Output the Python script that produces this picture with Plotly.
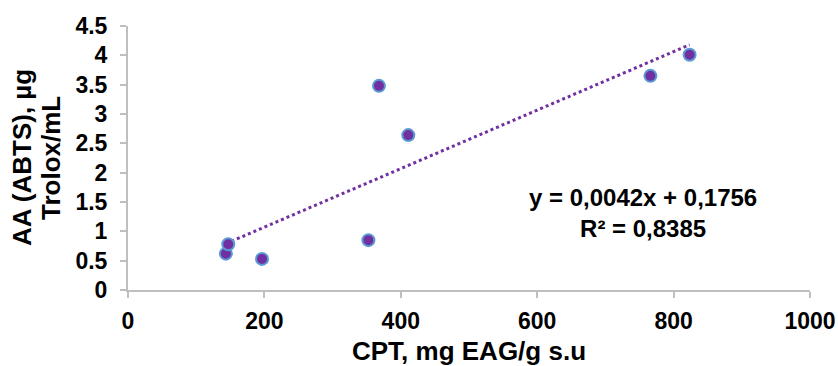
import plotly.graph_objects as go

# Data
cpt = [143.5, 147, 196.5, 352.5, 368, 411, 766, 823.5]
aa_abts = [0.62, 0.78, 0.53, 0.85, 3.48, 2.64, 3.65, 4.01]

# Trend line endpoints as drawn in the picture
trend_x = [143.5, 823.5]
trend_y = [0.79, 4.18]

x_ticks = [0, 200, 400, 600, 800, 1000]
y_ticks = [0, 0.5, 1, 1.5, 2, 2.5, 3, 3.5, 4, 4.5]
y_tick_labels = ["0", "0.5", "1", "1.5", "2", "2.5", "3", "3.5", "4", "4.5"]

eq_lines = ["y = 0,0042x + 0,1756", "R² = 0,8385"]
y_title_lines = ["AA (ABTS), µg", "Trolox/mL"]

FONT = "Liberation Sans, Arial, sans-serif"
AXIS_COLOR = "#BFBFBF"

fig = go.Figure()
fig.add_trace(go.Scatter(
    x=trend_x, y=trend_y, mode="lines",
    line=dict(color="#7030A0", width=3, dash="dot"),
    showlegend=False, hoverinfo="skip",
))
fig.add_trace(go.Scatter(
    x=cpt, y=aa_abts, mode="markers",
    marker=dict(size=12, color="#7030A0", line=dict(color="#5B9BD5", width=2)),
    showlegend=False,
))

fig.add_annotation(
    x=0.755, y=0.292, xref="paper", yref="paper",
    xanchor="center", yanchor="middle",
    text="<b>" + "<br>".join(eq_lines) + "</b>",
    showarrow=False, align="center",
    font=dict(family=FONT, size=24, color="#000000"),
)

# Y-axis title, two rotated lines
for line_text, xpos in zip(y_title_lines, [-0.1554, -0.1129]):
    fig.add_annotation(
        x=xpos, y=0.5, xref="paper", yref="paper",
        xanchor="center", yanchor="middle",
        text="<b>" + line_text + "</b>", textangle=-90,
        showarrow=False,
        font=dict(family=FONT, size=26, color="#000000"),
    )

fig.update_layout(
    width=838, height=366,
    margin=dict(l=128, r=28, t=26, b=76),
    paper_bgcolor="white", plot_bgcolor="white",
    font=dict(family=FONT, color="#000000"),
    xaxis=dict(
        range=[0, 1000], tickvals=x_ticks, ticktext=[str(v) for v in x_ticks],
        showgrid=False, zeroline=False, showline=True, linecolor=AXIS_COLOR, linewidth=2,
        ticks="outside", ticklen=6, tickcolor=AXIS_COLOR, tickwidth=2,
        ticklabelstandoff=3, automargin=False,
        tickfont=dict(family=FONT, size=23, color="#000000", weight="bold"),
        title=dict(text="<b>CPT, mg EAG/g s.u</b>", standoff=12,
                   font=dict(family=FONT, size=26, color="#000000")),
    ),
    yaxis=dict(
        range=[0, 4.5], tickvals=y_ticks, ticktext=y_tick_labels,
        showgrid=False, zeroline=False, showline=True, linecolor=AXIS_COLOR, linewidth=2,
        ticks="outside", ticklen=6, tickcolor=AXIS_COLOR, tickwidth=2,
        ticklabelstandoff=8, automargin=False,
        tickfont=dict(family=FONT, size=23, color="#000000", weight="bold"),
    ),
)

fig.write_html("out.html")
